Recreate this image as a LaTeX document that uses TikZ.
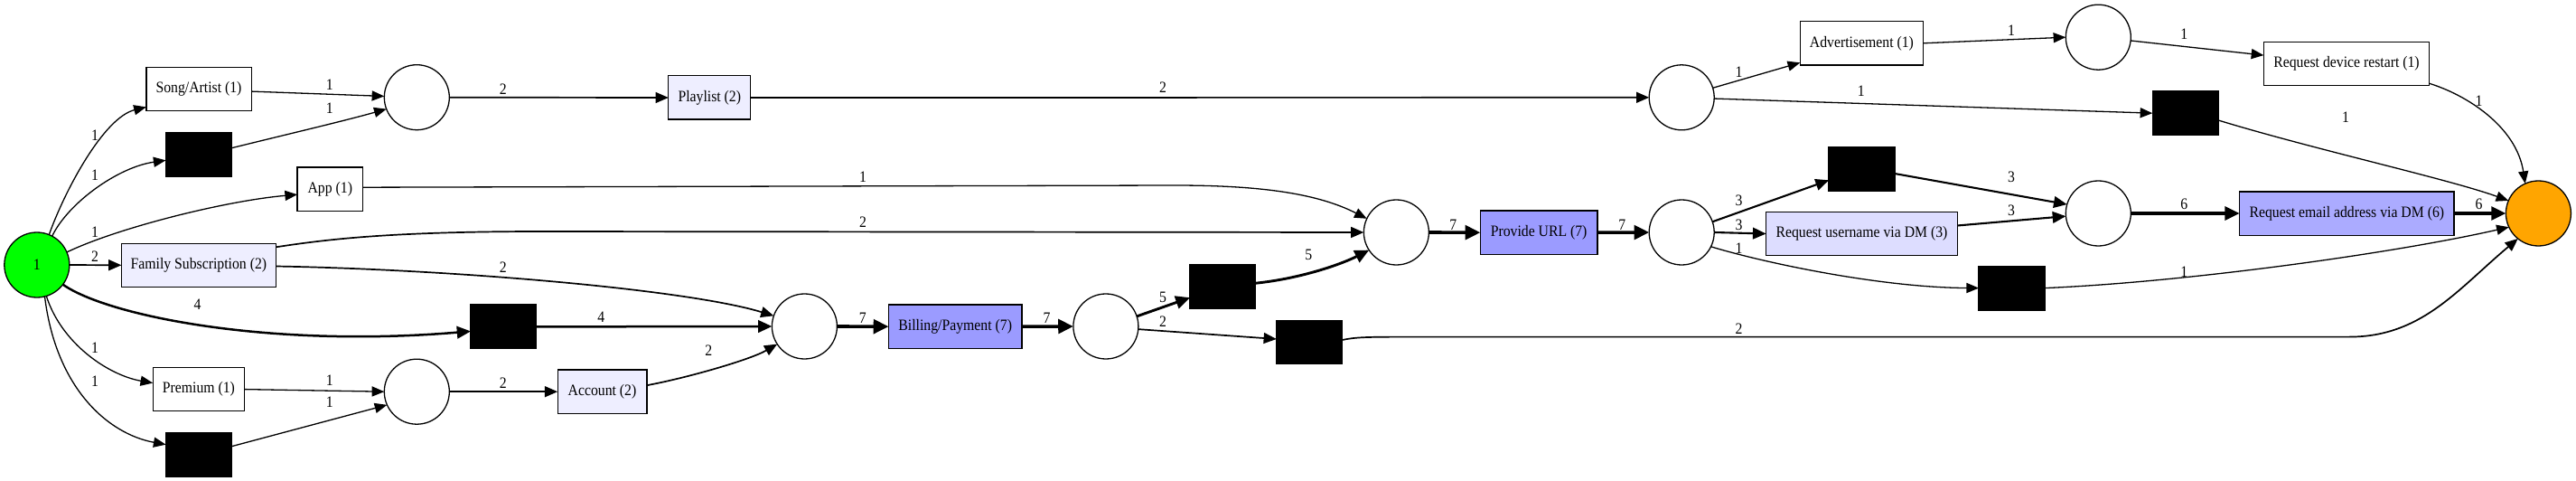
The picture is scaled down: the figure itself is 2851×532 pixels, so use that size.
\documentclass[tikz,border=0pt]{standalone}
\usepackage{fontspec}
\newfontfamily\lbl[FakeStretch=0.9]{Liberation Serif}
\usetikzlibrary{arrows.meta,calc}
\definecolor{lavB}{HTML}{EEEEFF}
\definecolor{lavC}{HTML}{DDDDFF}
\definecolor{lavF}{HTML}{ABABFF}
\definecolor{lavG}{HTML}{9B9BFF}
\definecolor{srcgreen}{HTML}{00FF00}
\definecolor{snkorange}{HTML}{FFA500}
\begin{document}
\begin{tikzpicture}[x=1pt,y=-1pt,
  font=\lbl\fontsize{17.5}{21}\selectfont,
  trans/.style={draw,line width=1.3pt,minimum height=48.3pt,inner sep=0pt,outer sep=0pt},
  silent/.style={draw,fill=black,line width=1.3pt,minimum width=72.8pt,minimum height=48.6pt,inner sep=0pt,outer sep=0pt},
  place/.style={circle,draw,line width=1.3pt,minimum size=72pt,inner sep=0pt,outer sep=0pt},
  lab/.style={inner sep=0pt},
  arc/.style={-{Triangle[length=12pt 1.3,width=8.5pt 2]}},
  w1/.style={arc,line width=1.3pt},
  w2/.style={arc,line width=1.7pt},
  w3/.style={arc,line width=2.1pt},
  w4/.style={arc,line width=2.5pt},
  w5/.style={arc,line width=2.9pt},
  w6/.style={arc,line width=3.2pt},
  w7/.style={arc,line width=3.6pt}]
\useasboundingbox (0,0) rectangle (2851,532);

% nodes
\node[place,fill=srcgreen] (src) at (40.8,293) {1};
\node[trans,minimum width=116.3pt] (sa) at (220,98.4) {Song/Artist (1)};
\node[silent] (b1) at (220,170.7) {};
\node[trans,minimum width=72.4pt] (app) at (365.3,209.2) {App (1)};
\node[trans,fill=lavB,minimum width=171pt] (fs) at (219.9,293.3) {Family Subscription (2)};
\node[silent] (bm) at (557.4,361.4) {};
\node[trans,minimum width=101.4pt] (pr) at (219.9,430.6) {Premium (1)};
\node[silent] (bb) at (220,502.7) {};
\node[place] (p1) at (461.3,107.7) {};
\node[place] (p2) at (461.3,433.2) {};
\node[trans,fill=lavB,minimum width=91pt] (pl) at (785.3,108) {Playlist (2)};
\node[trans,fill=lavB,minimum width=98.7pt] (ac) at (666.5,433.2) {Account (2)};
\node[place] (p3) at (890.4,361) {};
\node[trans,fill=lavG,minimum width=147.6pt] (bp) at (1057.2,361.2) {Billing/Payment (7)};
\node[place] (p4) at (1223.9,361) {};
\node[silent] (b5) at (1353.4,317.2) {};
\node[silent] (b2) at (1449.2,378.5) {};
\node[place] (p5) at (1545.4,257) {};
\node[trans,fill=lavG,minimum width=129.6pt] (pu) at (1703.1,257.2) {Provide URL (7)};
\node[place] (p6) at (1861.2,107.8) {};
\node[place] (p7) at (1861.2,257) {};
\node[trans,minimum width=136.3pt] (ad) at (2060.4,47.8) {Advertisement (1)};
\node[silent] (b3) at (2060.5,186.7) {};
\node[trans,fill=lavC,minimum width=211.7pt] (ru) at (2060.5,258.5) {Request username via DM (3)};
\node[silent] (b6) at (2226.5,318.6) {};
\node[place] (p8) at (2322.3,41.2) {};
\node[place] (p9) at (2322.3,236) {};
\node[silent] (b7) at (2418.7,125.2) {};
\node[trans,minimum width=183.3pt] (rd) at (2597,70.6) {Request device restart (1)};
\node[trans,fill=lavF,minimum width=237.4pt] (re) at (2597.3,236) {Request email address via DM (6)};
\node[place,fill=snkorange] (snk) at (2809.4,236) {};

% arcs from source
\draw[w1] (src.68) .. controls (72,210) and (115,130) .. ($(sa.west)+(0,20)$) node[lab] at (105,150) {1};
\draw[w1] (src.62) .. controls (75,225) and (130,185) .. ($(b1.west)+(0,6.6)$) node[lab] at (105,194) {1};
\draw[w1] (src.23) .. controls (130,252) and (250,222) .. ($(app.west)+(0,6)$) node[lab] at (105,256.7) {1};
\draw[w2] (src.east) -- (fs.west) node[lab] at (105,283.3) {2};
\draw[w4] (src.-37) .. controls (120,350) and (300,385) .. ($(bm.west)+(0,5)$) node[lab] at (218.5,337) {4};
\draw[w1] (src.-73) .. controls (68,380) and (120,415) .. ($(pr.west)+(0,-7)$) node[lab] at (105,385) {1};
\draw[w1] (src.-76) .. controls (62,430) and (120,480) .. ($(bb.west)+(0,-11)$) node[lab] at (105,421.7) {1};

% second column
\draw[w1] ($(sa.east)+(0,2.7)$) -- (p1.178) node[lab] at (364.7,94) {1};
\draw[w1] ($(b1.east)+(0,-7)$) .. controls (320,148) and (380,134) .. (p1.201) node[lab] at (364.7,119.4) {1};
\draw[w2] (p1.east) -- (pl.west) node[lab] at (556.8,98.4) {2};
\draw[w1] (pr.east) -- (p2.west) node[lab] at (364.7,420.8) {1};
\draw[w1] ($(bb.east)+(0,-9)$) -- (p2.204) node[lab] at (364.7,444.5) {1};
\draw[w2] (p2.east) -- (ac.west) node[lab] at (556.8,424.2) {2};
\draw[w2] (pl.east) -- (p6.west) node[lab] at (1287,96.4) {2};
\draw[w1] ($(app.east)+(0,-2)$) -- (1300,205) .. controls (1400,205) and (1460,215) .. (p5.155) node[lab] at (955,196) {1};
\draw[w2] ($(fs.east)+(0,-20)$) .. controls (360,265) and (430,256) .. (600,256) -- (p5.west) node[lab] at (955,246) {2};
\draw[w2] ($(fs.east)+(0,1.2)$) .. controls (500,298) and (760,320) .. (p3.161) node[lab] at (556.8,295.9) {2};
\draw[w4] (bm.east) -- (p3.west) node[lab] at (665.4,351) {4};
\draw[w2] ($(ac.east)+(0,-7)$) .. controls (760,418) and (830,398) .. (p3.213) node[lab] at (784.2,387.3) {2};
\draw[w7] (p3.east) -- (bp.west) node[lab] at (954.7,351.7) {7};
\draw[w7] (bp.east) -- (p4.west) node[lab] at (1158.5,351.7) {7};
\draw[w5] (p4.18) -- ($(b5.west)+(0,12)$) node[lab] at (1287,328.7) {5};
\draw[w2] (p4.-5) -- ($(b2.west)+(0,-3.5)$) node[lab] at (1287,356) {2};
\draw[w5] ($(b5.east)+(0,-4)$) .. controls (1440,308) and (1485,292) .. (p5.213) node[lab] at (1448.3,281.7) {5};
\draw[w2] ($(b2.east)+(0,-2.5)$) .. controls (1500,373) and (1510,372.6) .. (1560,372.6) -- (2600,372.6) .. controls (2680,372.6) and (2720,320) .. (snk.231) node[lab] at (1924.5,363.3) {2};
\draw[w7] (p5.east) -- (pu.west) node[lab] at (1608.2,248.3) {7};
\draw[w7] (pu.east) -- (p7.west) node[lab] at (1795.4,248.3) {7};

% right part
\draw[w1] (p6.17) -- ($(ad.west)+(0,21.5)$) node[lab] at (1924.5,80) {1};
\draw[w1] (p6.-2) -- (b7.west) node[lab] at (2059.7,101) {1};
\draw[w1] (ad.east) -- (p8.west) node[lab] at (2226,33.9) {1};
\draw[w1] (p8.-6) -- ($(rd.west)+(0,-9.5)$) node[lab] at (2417.3,37.3) {1};
\draw[w1] ($(rd.east)+(0,21.7)$) .. controls (2730,105) and (2785,140) .. (snk.114) node[lab] at (2743.6,111.3) {1};
\draw[w1] ($(b7.east)+(0,7.8)$) .. controls (2560,165) and (2710,198) .. (snk.157) node[lab] at (2596.1,129.6) {1};
\draw[w3] (p7.19) -- ($(b3.west)+(0,12.6)$) node[lab] at (1924.5,221.7) {3};
\draw[w3] (p7.east) -- (ru.west) node[lab] at (1924.5,248.3) {3};
\draw[w1] (p7.-26) .. controls (1950,290) and (2080,318) .. (b6.west) node[lab] at (1924.5,275) {1};
\draw[w3] ($(b3.east)+(0,5.3)$) -- (p9.164) node[lab] at (2226,196.1) {3};
\draw[w3] ($(ru.east)+(0,-9)$) -- (p9.185) node[lab] at (2226,232.4) {3};
\draw[w6] (p9.east) -- (re.west) node[lab] at (2417.3,225.7) {6};
\draw[w6] (re.east) -- (snk.west) node[lab] at (2743.6,225.7) {6};
\draw[w1] (b6.east) .. controls (2420,312) and (2650,280) .. (snk.205) node[lab] at (2417.3,300.3) {1};
\end{tikzpicture}
\end{document}
